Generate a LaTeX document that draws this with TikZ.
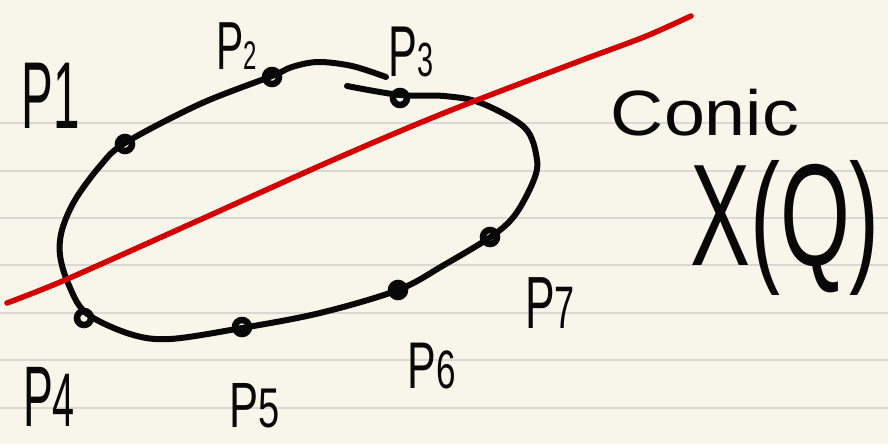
\documentclass[tikz,border=0pt]{standalone}
\usepackage{fontspec}
\setmainfont{Liberation Sans}
\definecolor{paper}{RGB}{248,246,234}
\definecolor{rule}{RGB}{216,216,212}
\definecolor{pen}{RGB}{8,8,8}
\definecolor{redpen}{RGB}{210,0,0}
\newcommand\plab[4]{{\fontsize{#1}{#1}\selectfont\scalebox{#4}[1]{P}\fontsize{#2}{#2}\selectfont\scalebox{#4}[1]{#3}}}
\tikzset{
  ink/.style={draw=pen, line width=6pt, line cap=round, line join=round},
  redink/.style={draw=redpen, line width=5.5pt, line cap=round},
  dotmark/.style={circle, draw=pen, line width=6.5pt, inner sep=0pt, minimum size=14pt},
  fulldot/.style={dotmark, fill=pen},
  lab/.style={inner sep=0pt, text=pen},
}
\begin{document}
\begin{tikzpicture}[x=1pt,y=-1pt]
\fill[paper] (0,0) rectangle (888,444);
\useasboundingbox (0,0) rectangle (888,444);
\foreach \yy in {123,171,218,265,313,360,408}
  \draw[rule, line width=2pt] (0,\yy) -- (888,\yy);
% conic
\draw[ink] plot[smooth, tension=0.55] coordinates {
 (386,77) (352,66) (318,62) (292,67) (272,76) (200,104) (125,143) (100,166) (75,200)
 (62,230) (60,255) (68,283) (86,313) (130,334) (170,339) (242,328) (320,313)
 (398,290) (444,265) (492,236) (515,215) (533,182) (537,160) (525,128)
 (481,103) (444,96) (400,95) (347,86)};
% red line
\draw[redink] plot[smooth, tension=0.5] coordinates {
 (7,303) (65,280) (195,222) (333,160) (444,113) (577,62) (644,37) (691,16)};
% points
\node[dotmark] (m1) at (125,144) {};
\node[dotmark] (m2) at (272,77) {};
\node[dotmark] (m3) at (400,98) {};
\node[dotmark] (m4) at (84,318) {};
\node[dotmark] (m5) at (242,327) {};
\node[fulldot] (m6) at (398,290) {};
\node[dotmark] (m7) at (490,237) {};
% labels
\node[lab] (l1) at (51,96) {\plab{95}{95}{1}{0.5}};
\node[lab] (l2) at (237,46) {\plab{68}{40}{2}{0.6}};
\node[lab] (l3) at (411,52) {\plab{72}{48}{3}{0.6}};
\node[lab] (l4) at (49,397) {\plab{86}{76}{4}{0.52}};
\node[lab] (l5) at (255,406) {\plab{64}{56}{5}{0.68}};
\node[lab] (l6) at (432,366) {\plab{66}{54}{6}{0.65}};
\node[lab] (l7) at (550,303) {\plab{74}{60}{7}{0.6}};
\node[lab] (conic) at (705,113) {\fontsize{64}{64}\selectfont\scalebox{1.15}[1]{Conic}};
\node[lab] (xq) at (785,228) {\fontsize{145}{145}\selectfont\scalebox{0.62}[1]{X(Q)}};
\end{tikzpicture}
\end{document}
